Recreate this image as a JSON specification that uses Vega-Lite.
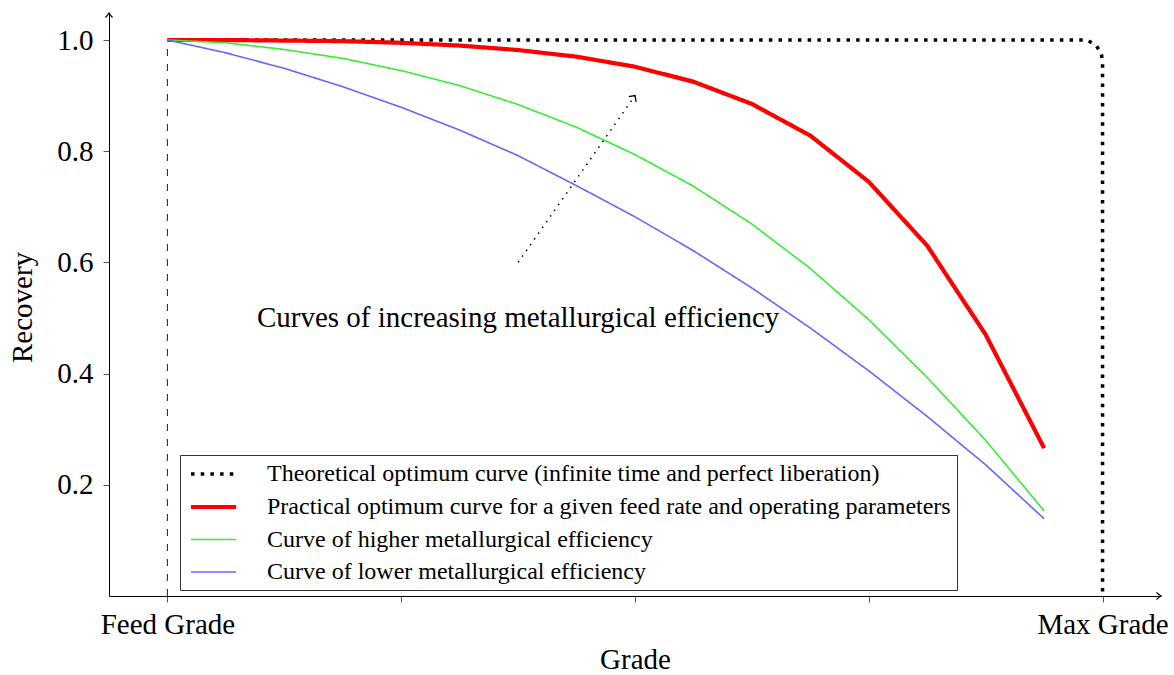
{
  "$schema": "https://vega.github.io/schema/vega-lite/v6.json",
  "width": 1052,
  "height": 583,
  "autosize": {"type": "none"},
  "padding": {"left": 109, "top": 13, "right": 13, "bottom": 79},
  "background": "white",
  "config": {"view": {"stroke": null}, "font": "Liberation Serif"},
  "datasets": {
    "curves": [
      {"s": "Theoretical optimum curve (infinite time and perfect liberation)", "i": 0, "g": 0, "r": 1.0},
      {"s": "Theoretical optimum curve (infinite time and perfect liberation)", "i": 1, "g": 3.935, "r": 1.0},
      {"s": "Theoretical optimum curve (infinite time and perfect liberation)", "i": 2, "g": 3.973, "r": 0.99},
      {"s": "Theoretical optimum curve (infinite time and perfect liberation)", "i": 3, "g": 3.995, "r": 0.976},
      {"s": "Theoretical optimum curve (infinite time and perfect liberation)", "i": 4, "g": 4.0, "r": 0.958},
      {"s": "Theoretical optimum curve (infinite time and perfect liberation)", "i": 5, "g": 4.0, "r": 0.0},
      {"s": "Practical optimum curve for a given feed rate and operating parameters", "i": 0, "g": 0, "r": 1.0},
      {"s": "Practical optimum curve for a given feed rate and operating parameters", "i": 1, "g": 0.25, "r": 1.0},
      {"s": "Practical optimum curve for a given feed rate and operating parameters", "i": 2, "g": 0.5, "r": 0.999},
      {"s": "Practical optimum curve for a given feed rate and operating parameters", "i": 3, "g": 0.75, "r": 0.998},
      {"s": "Practical optimum curve for a given feed rate and operating parameters", "i": 4, "g": 1.0, "r": 0.995},
      {"s": "Practical optimum curve for a given feed rate and operating parameters", "i": 5, "g": 1.25, "r": 0.99},
      {"s": "Practical optimum curve for a given feed rate and operating parameters", "i": 6, "g": 1.5, "r": 0.982},
      {"s": "Practical optimum curve for a given feed rate and operating parameters", "i": 7, "g": 1.75, "r": 0.97},
      {"s": "Practical optimum curve for a given feed rate and operating parameters", "i": 8, "g": 2.0, "r": 0.952},
      {"s": "Practical optimum curve for a given feed rate and operating parameters", "i": 9, "g": 2.25, "r": 0.925},
      {"s": "Practical optimum curve for a given feed rate and operating parameters", "i": 10, "g": 2.5, "r": 0.885},
      {"s": "Practical optimum curve for a given feed rate and operating parameters", "i": 11, "g": 2.75, "r": 0.828},
      {"s": "Practical optimum curve for a given feed rate and operating parameters", "i": 12, "g": 3.0, "r": 0.745},
      {"s": "Practical optimum curve for a given feed rate and operating parameters", "i": 13, "g": 3.25, "r": 0.63},
      {"s": "Practical optimum curve for a given feed rate and operating parameters", "i": 14, "g": 3.5, "r": 0.47},
      {"s": "Practical optimum curve for a given feed rate and operating parameters", "i": 15, "g": 3.75, "r": 0.266},
      {"s": "Curve of higher metallurgical efficiency", "i": 0, "g": 0, "r": 1.0},
      {"s": "Curve of higher metallurgical efficiency", "i": 1, "g": 0.25, "r": 0.995},
      {"s": "Curve of higher metallurgical efficiency", "i": 2, "g": 0.5, "r": 0.983},
      {"s": "Curve of higher metallurgical efficiency", "i": 3, "g": 0.75, "r": 0.967},
      {"s": "Curve of higher metallurgical efficiency", "i": 4, "g": 1.0, "r": 0.945},
      {"s": "Curve of higher metallurgical efficiency", "i": 5, "g": 1.25, "r": 0.918},
      {"s": "Curve of higher metallurgical efficiency", "i": 6, "g": 1.5, "r": 0.884},
      {"s": "Curve of higher metallurgical efficiency", "i": 7, "g": 1.75, "r": 0.843},
      {"s": "Curve of higher metallurgical efficiency", "i": 8, "g": 2.0, "r": 0.794},
      {"s": "Curve of higher metallurgical efficiency", "i": 9, "g": 2.25, "r": 0.737},
      {"s": "Curve of higher metallurgical efficiency", "i": 10, "g": 2.5, "r": 0.669},
      {"s": "Curve of higher metallurgical efficiency", "i": 11, "g": 2.75, "r": 0.589},
      {"s": "Curve of higher metallurgical efficiency", "i": 12, "g": 3.0, "r": 0.497},
      {"s": "Curve of higher metallurgical efficiency", "i": 13, "g": 3.25, "r": 0.393},
      {"s": "Curve of higher metallurgical efficiency", "i": 14, "g": 3.5, "r": 0.28},
      {"s": "Curve of higher metallurgical efficiency", "i": 15, "g": 3.75, "r": 0.153},
      {"s": "Curve of lower metallurgical efficiency", "i": 0, "g": 0, "r": 1.0},
      {"s": "Curve of lower metallurgical efficiency", "i": 1, "g": 0.25, "r": 0.977},
      {"s": "Curve of lower metallurgical efficiency", "i": 2, "g": 0.5, "r": 0.949},
      {"s": "Curve of lower metallurgical efficiency", "i": 3, "g": 0.75, "r": 0.916},
      {"s": "Curve of lower metallurgical efficiency", "i": 4, "g": 1.0, "r": 0.879},
      {"s": "Curve of lower metallurgical efficiency", "i": 5, "g": 1.25, "r": 0.838},
      {"s": "Curve of lower metallurgical efficiency", "i": 6, "g": 1.5, "r": 0.792},
      {"s": "Curve of lower metallurgical efficiency", "i": 7, "g": 1.75, "r": 0.738},
      {"s": "Curve of lower metallurgical efficiency", "i": 8, "g": 2.0, "r": 0.682},
      {"s": "Curve of lower metallurgical efficiency", "i": 9, "g": 2.25, "r": 0.621},
      {"s": "Curve of lower metallurgical efficiency", "i": 10, "g": 2.5, "r": 0.554},
      {"s": "Curve of lower metallurgical efficiency", "i": 11, "g": 2.75, "r": 0.482},
      {"s": "Curve of lower metallurgical efficiency", "i": 12, "g": 3.0, "r": 0.405},
      {"s": "Curve of lower metallurgical efficiency", "i": 13, "g": 3.25, "r": 0.323},
      {"s": "Curve of lower metallurgical efficiency", "i": 14, "g": 3.5, "r": 0.236},
      {"s": "Curve of lower metallurgical efficiency", "i": 15, "g": 3.75, "r": 0.139}
    ]
  },
  "encoding": {
    "x": {
      "field": "g", "type": "quantitative",
      "scale": {"domain": [-0.25, 4.25], "nice": false, "zero": false},
      "axis": {
        "values": [0, 1, 2, 3, 4],
        "labelExpr": "datum.value == 0 ? 'Feed Grade' : (datum.value == 4 ? 'Max Grade' : '')",
        "labelFont": "Liberation Serif", "labelFontSize": 29, "labelColor": "black",
        "labelPadding": 8, "tickSize": 6, "tickColor": "#555555", "tickWidth": 1,
        "domainColor": "black", "domainWidth": 1, "grid": false, "labelFlush": false, "labelOverlap": false,
        "title": "Grade", "titleFont": "Liberation Serif", "titleFontSize": 29, "titleFontWeight": "normal",
        "titleColor": "black", "titleX": 526, "titleY": 72, "titleAlign": "center", "titleBaseline": "alphabetic"
      }
    },
    "y": {
      "field": "r", "type": "quantitative",
      "scale": {"domain": [0, 1.0486], "nice": false, "zero": false},
      "axis": {
        "values": [0.2, 0.4, 0.6, 0.8, 1.0], "format": ".1f",
        "labelFont": "Liberation Serif", "labelFontSize": 29, "labelColor": "black",
        "labelPadding": 10, "tickSize": 6, "tickColor": "#555555", "tickWidth": 1,
        "domainColor": "black", "domainWidth": 1, "grid": false, "labelFlush": false, "labelOverlap": false,
        "title": "Recovery", "titleFont": "Liberation Serif", "titleFontSize": 29, "titleFontWeight": "normal",
        "titleColor": "black", "titleX": -78, "titleY": 294, "titleAngle": -90, "titleAlign": "center", "titleBaseline": "alphabetic"
      }
    }
  },
  "layer": [
    {
      "data": {"values": [{"g": 0, "r": 0, "r2": 1}]},
      "mark": {"type": "rule", "color": "#333333", "strokeWidth": 1.1, "strokeDash": [7, 8]},
      "encoding": {"y2": {"field": "r2"}}
    },
    {
      "data": {"name": "curves"},
      "mark": {"type": "line", "strokeCap": "butt", "strokeJoin": "round"},
      "encoding": {
        "order": {"field": "i", "type": "quantitative"},
        "color": {
          "field": "s", "type": "nominal",
          "scale": {
            "domain": ["Theoretical optimum curve (infinite time and perfect liberation)", "Practical optimum curve for a given feed rate and operating parameters", "Curve of higher metallurgical efficiency", "Curve of lower metallurgical efficiency"],
            "range": ["#000000", "#ff0000", "#33ee33", "#6666ff"]
          },
          "legend": {
            "title": null, "orient": "none", "legendX": 71, "legendY": 442, "direction": "vertical",
            "strokeColor": "#333333", "fillColor": "white", "padding": 6,
            "labelFont": "Liberation Serif", "labelFontSize": 24, "labelColor": "black", "labelLimit": 1000,
            "symbolType": "M-2,0L2,0", "symbolSize": 506.25, "symbolOffset": 14, "rowPadding": 7.5, "labelOffset": 40, "symbolOpacity": 1
          }
        },
        "strokeDash": {
          "field": "s", "type": "nominal",
          "scale": {
            "domain": ["Theoretical optimum curve (infinite time and perfect liberation)", "Practical optimum curve for a given feed rate and operating parameters", "Curve of higher metallurgical efficiency", "Curve of lower metallurgical efficiency"],
            "range": [[3.5, 6.2], [1, 0], [1, 0], [1, 0]]
          },
          "legend": {"title": null}
        },
        "strokeWidth": {
          "field": "s", "type": "nominal",
          "scale": {
            "type": "ordinal",
            "domain": ["Theoretical optimum curve (infinite time and perfect liberation)", "Practical optimum curve for a given feed rate and operating parameters", "Curve of higher metallurgical efficiency", "Curve of lower metallurgical efficiency"],
            "range": [3.5, 4.2, 1.6, 1.6]
          },
          "legend": {"title": null}
        }
      }
    },
    {
      "data": {"values": [{"g": 1.5, "r": 0.6, "k": 0}, {"g": 2.0, "r": 0.9, "k": 1}]},
      "mark": {"type": "line", "color": "black", "strokeWidth": 1.5, "strokeDash": [1.5, 5.5]},
      "encoding": {"order": {"field": "k", "type": "quantitative"}}
    },
    {
      "data": {"values": [{"g": 2.0, "r": 0.9, "a": 35}]},
      "mark": {"type": "point", "shape": "M-1,1L0,0L1,1", "filled": false, "stroke": "black", "strokeWidth": 1.3, "size": 80, "opacity": 1},
      "encoding": {"angle": {"field": "a", "type": "quantitative", "scale": null}}
    },
    {
      "data": {"values": [{"g": 4.25, "r": 0, "a": 90}, {"g": -0.25, "r": 1.0486, "a": 0}]},
      "mark": {"type": "point", "shape": "M-1,1.3Q-0.3,0.5 0,0Q0.3,0.5 1,1.3", "filled": false, "stroke": "black", "strokeWidth": 1.3, "size": 49, "opacity": 1},
      "encoding": {"angle": {"field": "a", "type": "quantitative", "scale": null}}
    },
    {
      "data": {"values": [{"label": "Curves of increasing metallurgical efficiency", "g": 1.5, "r": 0.483}]},
      "mark": {"type": "text", "font": "Liberation Serif", "fontSize": 29, "color": "black", "align": "center", "baseline": "alphabetic"},
      "encoding": {"text": {"field": "label"}}
    }
  ]
}
